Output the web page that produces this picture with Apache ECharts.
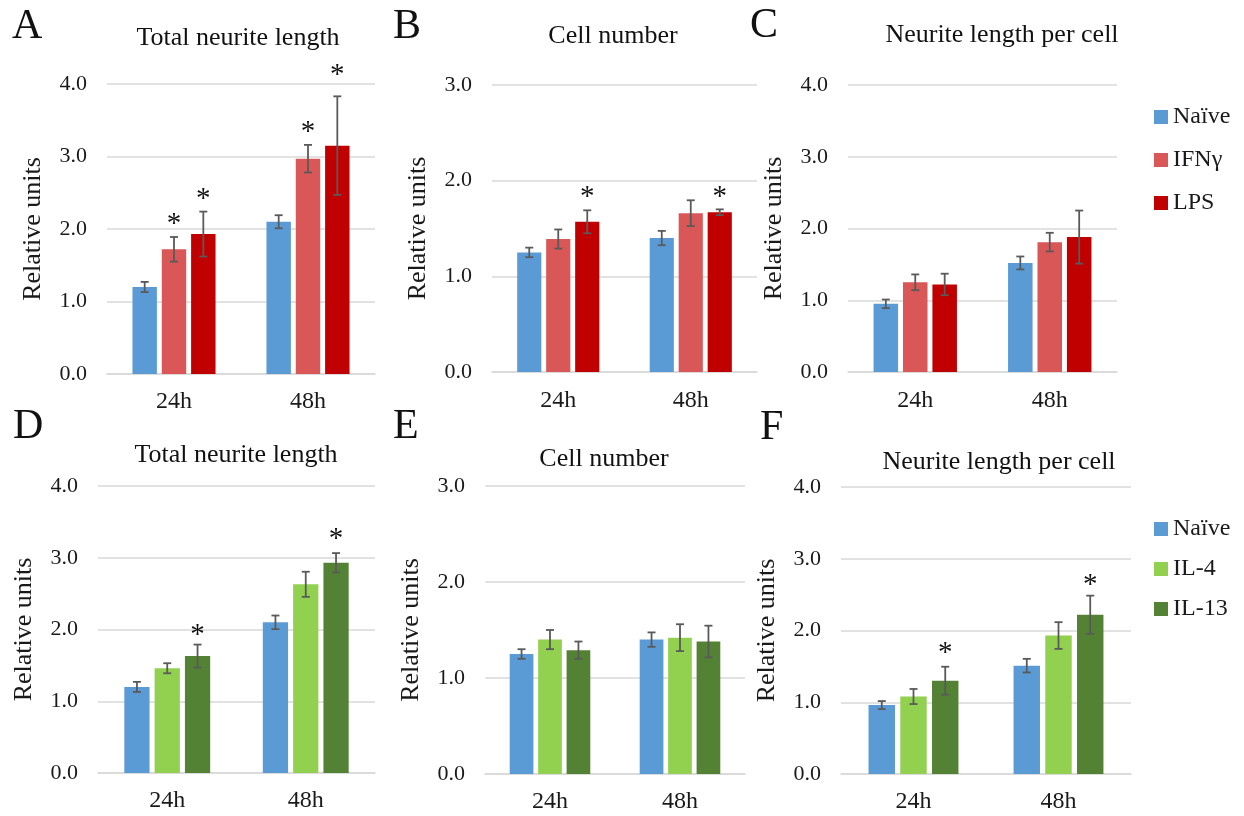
<!DOCTYPE html>
<html>
<head>
<meta charset="utf-8">
<title>Neurite outgrowth</title>
<script src="https://cdn.jsdelivr.net/npm/echarts@6/dist/echarts.min.js"></script>
<style>
  html, body { margin: 0; padding: 0; background: #fff; }
  #main { width: 1244px; height: 816px; }
</style>
</head>
<body>
<div id="main"></div>
<script>
var categories = ['24h', '48h'];
var namesTop = ['Naïve', 'IFNγ', 'LPS'];
var namesBottom = ['Naïve', 'IL-4', 'IL-13'];
var colorsTop = ['#5B9BD5', '#D95757', '#C00000'];
var colorsBottom = ['#5B9BD5', '#92D050', '#548235'];

// mean per series [24h, 48h], error, star position (-1 = none)
var aMean = [[1.20, 2.10], [1.72, 2.97], [1.93, 3.15]];
var aErr  = [[0.07, 0.09], [0.17, 0.19], [0.31, 0.68]];
var aStar = [[-1, -1], [2.12, 3.39], [2.47, 4.17]];

var bMean = [[1.25, 1.40], [1.39, 1.66], [1.57, 1.67]];
var bErr  = [[0.05, 0.075], [0.10, 0.135], [0.12, 0.03]];
var bStar = [[-1, -1], [-1, -1], [1.87, 1.87]];

var cMean = [[0.95, 1.52], [1.25, 1.81], [1.22, 1.88]];
var cErr  = [[0.06, 0.09], [0.11, 0.13], [0.15, 0.37]];
var cStar = [[-1, -1], [-1, -1], [-1, -1]];

var dMean = [[1.20, 2.10], [1.46, 2.63], [1.63, 2.93]];
var dErr  = [[0.07, 0.095], [0.07, 0.175], [0.16, 0.135]];
var dStar = [[-1, -1], [-1, -1], [1.98, 3.31]];

var eMean = [[1.25, 1.40], [1.40, 1.42], [1.29, 1.38]];
var eErr  = [[0.05, 0.075], [0.10, 0.14], [0.09, 0.165]];
var eStar = [[-1, -1], [-1, -1], [-1, -1]];

var fMean = [[0.96, 1.51], [1.08, 1.93], [1.30, 2.22]];
var fErr  = [[0.056, 0.095], [0.105, 0.186], [0.195, 0.266]];
var fStar = [[-1, -1], [-1, -1], [1.735, 2.68]];

var FONT = '"Liberation Serif", "DejaVu Serif", serif';
var CAT_GAP = 0.38, BAR_GAP = 0.2;

var panels = [
    {letter: 'A', title: 'Total neurite length', names: namesTop, colors: colorsTop, mean: aMean, err: aErr, star: aStar, max: 4,
     grid: {left: 107, top: 84, width: 268, height: 290}, lx: 12, ly: 27, tx: 238, ty: 38, labelMargin: 16},
    {letter: 'B', title: 'Cell number', names: namesTop, colors: colorsTop, mean: bMean, err: bErr, star: bStar, max: 3,
     grid: {left: 492, top: 85, width: 265, height: 287}, lx: 393, ly: 27, tx: 613, ty: 36.5, labelMargin: 17},
    {letter: 'C', title: 'Neurite length per cell', names: namesTop, colors: colorsTop, mean: cMean, err: cErr, star: cStar, max: 4,
     grid: {left: 848, top: 85, width: 269, height: 287}, lx: 750, ly: 26, tx: 1002, ty: 35, labelMargin: 17},
    {letter: 'D', title: 'Total neurite length', names: namesBottom, colors: colorsBottom, mean: dMean, err: dErr, star: dStar, max: 4,
     grid: {left: 98, top: 486, width: 277, height: 287}, lx: 13, ly: 427, tx: 236, ty: 455, labelMargin: 16},
    {letter: 'E', title: 'Cell number', names: namesBottom, colors: colorsBottom, mean: eMean, err: eErr, star: eStar, max: 3,
     grid: {left: 485, top: 486, width: 260, height: 288}, lx: 393, ly: 427, tx: 604, ty: 459, labelMargin: 16},
    {letter: 'F', title: 'Neurite length per cell', names: namesBottom, colors: colorsBottom, mean: fMean, err: fErr, star: fStar, max: 4,
     grid: {left: 841, top: 487, width: 290, height: 287}, lx: 760, ly: 428, tx: 999, ty: 462, labelMargin: 16}
];

function renderErr(params, api) {
    var cat = api.value(0), mean = api.value(1), err = api.value(2), starY = api.value(3), s = api.value(4);
    var band = api.size([1, 0])[0];
    var barW = band * (1 - CAT_GAP) / (3 + 2 * BAR_GAP);
    var cx = api.coord([cat, 0])[0] + (s - 1) * barW * (1 + BAR_GAP);
    var yt = api.coord([cat, mean + err])[1];
    var yb = api.coord([cat, mean - err])[1];
    var ls = {stroke: '#5a5a5a', lineWidth: 1.8};
    var children = [
        {type: 'line', shape: {x1: cx, y1: yt, x2: cx, y2: yb}, style: ls},
        {type: 'line', shape: {x1: cx - 4, y1: yt, x2: cx + 4, y2: yt}, style: ls},
        {type: 'line', shape: {x1: cx - 4, y1: yb, x2: cx + 4, y2: yb}, style: ls}
    ];
    if (starY > 0) {
        children.push({
            type: 'text',
            x: cx,
            y: api.coord([cat, starY])[1] + 4,
            style: {text: '*', font: '29px ' + FONT, fill: '#111',
                    align: 'center', verticalAlign: 'middle', textAlign: 'center', textVerticalAlign: 'middle'}
        });
    }
    return {type: 'group', children: children};
}

var grids = [], xAxes = [], yAxes = [], series = [], graphics = [];

panels.forEach(function (p, k) {
    grids.push(p.grid);
    xAxes.push({
        type: 'category', gridIndex: k, data: categories,
        axisLine: {lineStyle: {color: '#d9d9d9', width: 1.5}},
        axisTick: {show: false},
        axisLabel: {color: '#1a1a1a', fontFamily: FONT, fontSize: 24, margin: p.labelMargin}
    });
    yAxes.push({
        type: 'value', gridIndex: k, min: 0, max: p.max, interval: 1,
        name: 'Relative units', nameLocation: 'middle', nameRotate: 90, nameGap: 61,
        nameTextStyle: {color: '#1a1a1a', fontFamily: FONT, fontSize: 26},
        axisLine: {show: false}, axisTick: {show: false},
        axisLabel: {color: '#1a1a1a', fontFamily: FONT, fontSize: 22, margin: 20,
                    formatter: function (v) { return v.toFixed(1); }},
        splitLine: {lineStyle: {color: '#d9d9d9', width: 1.5}}
    });
    var errData = [];
    p.names.forEach(function (name, s) {
        series.push({
            name: name, type: 'bar', xAxisIndex: k, yAxisIndex: k,
            barCategoryGap: (CAT_GAP * 100) + '%', barGap: (BAR_GAP * 100) + '%',
            itemStyle: {color: p.colors[s]},
            data: p.mean[s]
        });
        p.mean[s].forEach(function (m, c) {
            errData.push([c, m, p.err[s][c], p.star[s][c], s]);
        });
    });
    series.push({
        type: 'custom', xAxisIndex: k, yAxisIndex: k, z: 10, clip: false, silent: true,
        renderItem: renderErr, encode: {x: 0, y: 1}, data: errData
    });
    graphics.push({
        type: 'text', x: p.lx, y: p.ly,
        style: {text: p.letter, font: '42px ' + FONT, fill: '#111', textAlign: 'left', textVerticalAlign: 'middle'}
    });
    graphics.push({
        type: 'text', x: p.tx, y: p.ty,
        style: {text: p.title, font: '26px ' + FONT, fill: '#111', textAlign: 'center', textVerticalAlign: 'middle'}
    });
});

var legendBase = {
    orient: 'vertical', left: 1154, padding: 0, icon: 'rect',
    itemWidth: 14, itemHeight: 14, itemGap: 19,
    textStyle: {color: '#1a1a1a', fontFamily: FONT, fontSize: 24}
};

var option = {
    animation: false,
    backgroundColor: '#fff',
    grid: grids,
    xAxis: xAxes,
    yAxis: yAxes,
    legend: [
        Object.assign({}, legendBase, {top: 105, data: namesTop}),
        Object.assign({}, legendBase, {top: 517, itemGap: 16, data: namesBottom})
    ],
    graphic: graphics,
    series: series
};

var myChart = echarts.init(document.getElementById('main'));
myChart.setOption(option);
</script>
</body>
</html>
